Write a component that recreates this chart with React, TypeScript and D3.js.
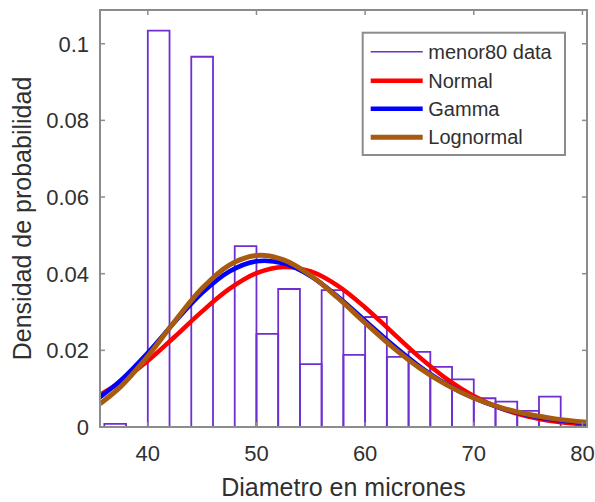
import React from "react";
import * as d3 from "d3";

// ---------- data ----------
const binLeft = [36, 40, 42, 44, 46, 48, 50, 52, 54, 56, 58, 60, 62, 64, 66, 68, 70, 72, 74, 76];
const binDensity = [0.0008, 0.1034, 0, 0.0966, 0, 0.0472, 0.0243, 0.036, 0.0164, 0.0357, 0.0188, 0.0287, 0.0183, 0.0196, 0.0157, 0.0124, 0.0075, 0.0066, 0.0042, 0.0079];
const binWidth = 2;

const curveX = [35.6, 37.5, 40, 42.5, 45, 47.5, 50, 52.5, 55, 57.5, 60, 62.5, 65, 67.5, 70, 72.5, 75, 77.5, 80.45];
const normalY = [0.0084, 0.01177, 0.01725, 0.02362, 0.03018, 0.03602, 0.04014, 0.04177, 0.04058, 0.03682, 0.03119, 0.02468, 0.01823, 0.01257, 0.0081, 0.00487, 0.00273, 0.00143, 0.00061];
const gammaY = [0.00779, 0.01215, 0.01938, 0.02746, 0.03499, 0.04057, 0.04323, 0.04268, 0.03932, 0.034, 0.02776, 0.0215, 0.01584, 0.01117, 0.00755, 0.00491, 0.00308, 0.00186, 0.00099];
const lognormalY = [0.00606, 0.01054, 0.01849, 0.02767, 0.03619, 0.04224, 0.04474, 0.0436, 0.03953, 0.03367, 0.02717, 0.0209, 0.01543, 0.01098, 0.00756, 0.00507, 0.00331, 0.00212, 0.00122];

const xTicks = [40, 50, 60, 70, 80];
const yTicks = [0, 0.02, 0.04, 0.06, 0.08, 0.1];
const yTickLabels = ["0", "0.02", "0.04", "0.06", "0.08", "0.1"];

const legendLabels = ["menor80 data", "Normal", "Gamma", "Lognormal"];

// ---------- layout ----------
const W = 595;
const H = 502;
const left = 100;
const right = 587;
const top = 10;
const bottom = 427;

const PURPLE = "#6f2fd0";
const RED = "#ff0000";
const BLUE = "#0000ff";
const BROWN = "#a85a0e";
const AXIS = "#8c8c8c";
const TEXT = "#303030";
const FONT = "'Liberation Sans', Arial, Helvetica, sans-serif";

export default function App() {
  const x = d3.scaleLinear().domain([35.6, 80.42]).range([left, right]);
  const y = d3.scaleLinear().domain([0, 0.1088]).range([bottom, top]);

  const line = (ys: number[]) =>
    d3
      .line<number>()
      .x((_, i) => x(curveX[i]))
      .y((v) => y(v))
      .curve(d3.curveCatmullRom.alpha(0.5))(ys) || "";

  const bars = binLeft.map((b, i) => {
    const x0 = x(b);
    const x1 = x(b + binWidth);
    const yt = y(binDensity[i]);
    const y0 = y(0);
    return `M${x0},${y0}V${yt}H${x1}V${y0}Z`;
  });

  const curves = [
    { ys: normalY, color: RED, w: 4.5 },
    { ys: gammaY, color: BLUE, w: 4.5 },
    { ys: lognormalY, color: BROWN, w: 5 },
  ];

  const legendColors = [PURPLE, RED, BLUE, BROWN];
  const legendWidths = [1.6, 4.5, 4.5, 5];
  const legendRowY = [51.7, 80.7, 108.8, 137.3];

  return (
    <svg
      width={W}
      height={H}
      style={{ position: "fixed", left: 0, top: 0, background: "#fff" }}
      fontFamily={FONT}
    >
      <rect x={0} y={0} width={W} height={H} fill="#fff" />
      <defs>
        <clipPath id="plot">
          <rect x={left} y={top} width={right - left} height={bottom - top} />
        </clipPath>
      </defs>

      <g clipPath="url(#plot)">
        {bars.map((d, i) => (
          <path key={i} d={d} fill="none" stroke={PURPLE} strokeWidth={1.8} />
        ))}
        {curves.map((c, i) => (
          <path key={i} d={line(c.ys)} fill="none" stroke={c.color} strokeWidth={c.w} strokeLinejoin="round" />
        ))}
      </g>

      {/* axes box */}
      <rect x={left} y={top} width={right - left} height={bottom - top} fill="none" stroke={AXIS} strokeWidth={2} />

      {/* x ticks */}
      {xTicks.map((t) => (
        <g key={t}>
          <line x1={x(t)} x2={x(t)} y1={bottom} y2={bottom - 5} stroke={AXIS} strokeWidth={1.5} />
          <line x1={x(t)} x2={x(t)} y1={top} y2={top + 5} stroke={AXIS} strokeWidth={1.5} />
          <text x={x(t)} y={461} textAnchor="middle" fontSize={22} fill={TEXT}>
            {t}
          </text>
        </g>
      ))}

      {/* y ticks */}
      {yTicks.map((t, i) => (
        <g key={t}>
          <line x1={left} x2={left + 5} y1={y(t)} y2={y(t)} stroke={AXIS} strokeWidth={1.5} />
          <line x1={right} x2={right - 5} y1={y(t)} y2={y(t)} stroke={AXIS} strokeWidth={1.5} />
          <text x={89} y={y(t) + 8} textAnchor="end" fontSize={22} fill={TEXT}>
            {yTickLabels[i]}
          </text>
        </g>
      ))}

      {/* axis labels */}
      <text x={(left + right) / 2} y={496} textAnchor="middle" fontSize={25} fill={TEXT}>
        Diametro en micrones
      </text>
      <text
        transform={`translate(31, ${(top + bottom) / 2}) rotate(-90)`}
        textAnchor="middle"
        fontSize={25}
        fill={TEXT}
      >
        Densidad de probabilidad
      </text>

      {/* legend */}
      <rect x={362.7} y={32.7} width={202.3} height={122.3} fill="#fff" stroke={AXIS} strokeWidth={2} />
      {legendLabels.map((lab, i) => (
        <g key={lab}>
          <line
            x1={370.7}
            x2={422.7}
            y1={legendRowY[i]}
            y2={legendRowY[i]}
            stroke={legendColors[i]}
            strokeWidth={legendWidths[i]}
          />
          <text x={428.3} y={legendRowY[i] + 7} fontSize={20} fill={TEXT}>
            {lab}
          </text>
        </g>
      ))}
    </svg>
  );
}
